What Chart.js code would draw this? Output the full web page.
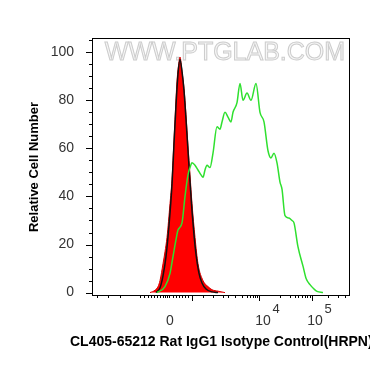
<!DOCTYPE html>
<html>
<head>
<meta charset="utf-8">
<script src="https://cdn.jsdelivr.net/npm/chart.js@4.4.1/dist/chart.umd.min.js"></script>
<style>
  html, body { margin: 0; padding: 0; background: #fff; }
  #wrap { width: 370px; height: 367px; }
</style>
</head>
<body>
<div id="wrap"><canvas id="histo"></canvas></div>
<script>
// x is in display channels (logicle-like axis), y is relative cell number
const redX = [57, 62, 65, 67, 70, 72, 74, 77, 79, 80, 82, 84, 86, 87, 89, 91, 93, 95, 97, 99, 102, 105, 110, 115, 119, 125, 132];
const redY = [0, 1, 2.5, 5, 12, 17, 23, 37, 47, 55, 72, 88, 96, 98, 92, 85, 74, 61, 49, 37, 23, 12, 5, 2.5, 1.2, 0.6, 0];

const blackX = [63, 67, 70, 73, 76, 79, 81, 83, 85, 87, 89, 91, 93, 95, 97, 99, 101, 103, 106, 109, 113, 119, 125];
const blackY = [0, 2, 7, 15, 28, 45, 62, 78, 91, 97, 92, 84, 72, 59, 46, 34, 24, 16, 8, 4, 1.5, 0.3, 0];

const greenX = [64, 72, 77, 80, 83, 85, 89, 92, 95, 97, 99, 102, 105, 108, 110, 112, 114, 117, 120, 124,
  127, 129, 132, 135, 138, 140, 144, 147, 150, 154, 158, 163, 167, 171, 175, 178, 181, 184, 187, 189,
  192, 196, 199, 201, 205, 210, 213, 217, 221, 224, 230];
const greenY = [0, 2.5, 8, 15, 22, 26, 29, 40, 49, 52, 54, 53, 51, 49, 48, 51, 53, 52, 58, 69,
  68, 71, 75, 73, 71, 75, 79, 87, 80, 83, 80, 87, 75, 71, 59, 56, 58, 54, 46, 43,
  32, 31, 30, 29, 19, 11, 6, 3.3, 1.5, 0.5, 0];

const xLabelPos = [77, 170, 222];
const xLabels = ['0', '10', '10'];
const xExponents = ['', '4', '5'];
const xMajorTicks = [99, 166, 219];
const xMinorTicks = [4, 15, 27, 47, 51, 55, 58, 61, 64, 67, 70, 72, 74, 76, 80, 83, 86, 89, 92, 95,
  110, 120, 130, 135, 142, 149, 154, 157, 160, 162, 164, 187, 197, 202, 205, 209, 212, 214, 217, 235, 245, 252];
const yTicks = [0, 20, 40, 60, 80, 100];
const yMinorTicks = [5, 10, 15, 25, 30, 35, 45, 50, 55, 65, 70, 75, 85, 90, 95, 105];

const xTitle = 'CL405-65212 Rat IgG1 Isotype Control(HRPN)';
const yTitle = 'Relative Cell Number';
const watermark = 'WWW.PTGLAB.COM';

const FONT = "'Liberation Sans', Arial, sans-serif";

function pts(xs, ys) {
  return xs.map((x, i) => ({ x: x, y: ys[i] }));
}

const framePlugin = {
  id: 'frame',
  beforeDatasetsDraw(chart) {
    const ctx = chart.ctx;
    const a = chart.chartArea;
    ctx.save();
    ctx.font = '25px ' + FONT;
    ctx.textAlign = 'center';
    ctx.textBaseline = 'middle';
    ctx.fillStyle = '#f6f6f6';
    ctx.strokeStyle = '#cdcdcd';
    ctx.lineWidth = 1;
    const cx = (a.left + a.right) / 2 + 4;
    ctx.fillText(watermark, cx, a.top + 14);
    ctx.strokeText(watermark, cx, a.top + 14);
    ctx.restore();
  },
  afterDraw(chart) {
    const ctx = chart.ctx;
    const a = chart.chartArea;
    const xs = chart.scales.x;
    const ys = chart.scales.y;
    ctx.save();
    ctx.strokeStyle = '#000';
    ctx.lineWidth = 1;
    ctx.strokeRect(a.left - 0.5, a.top - 0.5, a.right - a.left + 1, a.bottom - a.top + 1);

    ctx.beginPath();
    yTicks.forEach(v => {
      const py = Math.round(ys.getPixelForValue(v)) + 0.5;
      ctx.moveTo(a.left - 7, py);
      ctx.lineTo(a.left, py);
    });
    yMinorTicks.forEach(v => {
      const py = Math.round(ys.getPixelForValue(v)) + 0.5;
      ctx.moveTo(a.left - 4, py);
      ctx.lineTo(a.left, py);
    });
    xMajorTicks.forEach(v => {
      const px = Math.round(xs.getPixelForValue(v)) + 0.5;
      ctx.moveTo(px, a.bottom);
      ctx.lineTo(px, a.bottom + 6);
    });
    xMinorTicks.forEach(v => {
      const px = Math.round(xs.getPixelForValue(v)) + 0.5;
      ctx.moveTo(px, a.bottom);
      ctx.lineTo(px, a.bottom + 3);
    });
    ctx.stroke();

    // exponents of the decade labels
    ctx.font = '13px ' + FONT;
    ctx.fillStyle = '#333';
    ctx.textAlign = 'center';
    ctx.textBaseline = 'alphabetic';
    xLabelPos.forEach((v, i) => {
      if (xExponents[i]) ctx.fillText(xExponents[i], xs.getPixelForValue(v) + 13, a.bottom + 18);
    });

    ctx.font = 'bold 14px ' + FONT;
    ctx.fillStyle = '#000';
    ctx.textAlign = 'left';
    ctx.textBaseline = 'middle';
    ctx.fillText(xTitle, 70, 342);
    ctx.restore();
  }
};

new Chart(document.getElementById('histo'), {
  type: 'line',
  data: {
    datasets: [
      {
        label: 'Sample',
        data: pts(greenX, greenY),
        borderColor: '#2fe02f',
        borderWidth: 1.5,
        pointRadius: 0,
        fill: false,
        cubicInterpolationMode: 'monotone'
      },
      {
        label: 'Control',
        data: pts(blackX, blackY),
        borderColor: '#111',
        borderWidth: 1.5,
        pointRadius: 0,
        fill: false,
        cubicInterpolationMode: 'monotone'
      },
      {
        label: 'Isotype',
        data: pts(redX, redY),
        borderColor: '#d80000',
        backgroundColor: '#ff0000',
        borderWidth: 1,
        pointRadius: 0,
        fill: 'origin',
        cubicInterpolationMode: 'monotone'
      }
    ]
  },
  options: {
    responsive: true,
    maintainAspectRatio: false,
    animation: false,
    layout: { padding: { top: 39, right: 21, left: 0, bottom: 0 } },
    plugins: {
      legend: { display: false },
      tooltip: { enabled: false }
    },
    scales: {
      x: {
        type: 'linear',
        min: 0,
        max: 256,
        afterBuildTicks: s => { s.ticks = xLabelPos.map(v => ({ value: v })); },
        afterFit: s => { s.height = 72; },
        ticks: {
          callback: (v, i) => xLabels[i],
          padding: 10,
          maxRotation: 0,
          autoSkip: false,
          color: '#333',
          font: { family: FONT, size: 14 }
        },
        grid: { display: false },
        border: { display: false }
      },
      y: {
        type: 'linear',
        min: -1,
        max: 105.5,
        afterBuildTicks: s => { s.ticks = yTicks.map(v => ({ value: v })); },
        afterFit: s => { s.width = 93; },
        ticks: {
          padding: 11,
          color: '#333',
          font: { family: FONT, size: 14 }
        },
        grid: { display: false },
        border: { display: false },
        title: {
          display: true,
          text: yTitle,
          color: '#000',
          font: { family: FONT, size: 13, weight: 'bold' },
          padding: { top: 27, bottom: 0 }
        }
      }
    }
  },
  plugins: [framePlugin]
});
</script>
</body>
</html>
